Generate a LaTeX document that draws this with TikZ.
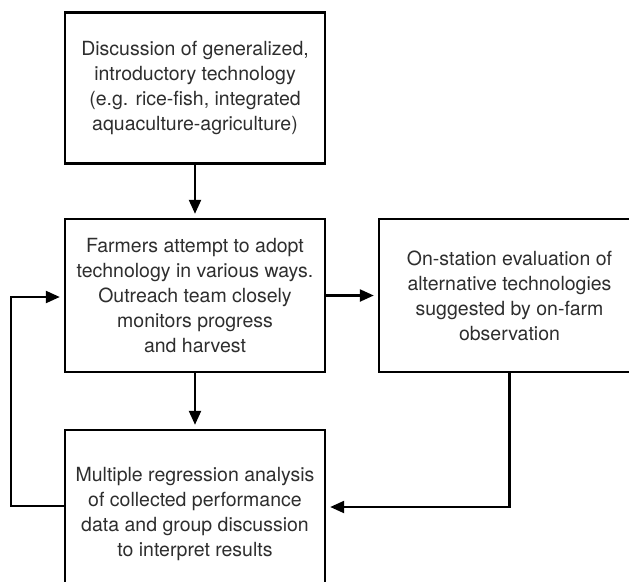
\documentclass[tikz,border=0pt]{standalone}
\usepackage{fontspec}
\setmainfont{TeX Gyre Heros}
\usetikzlibrary{arrows.meta}
\tikzset{
  box/.style={draw=black, line width=2.4pt, fill=white, align=center, text=black!82,
    font=\fontsize{19.5}{25}\selectfont, inner sep=0pt},
  arrow/.style={line width=2.3pt, -{Triangle[length=14pt,width=12pt]}, shorten >=4pt}
}
\begin{document}
\begin{tikzpicture}[x=1pt,y=-1pt]
\useasboundingbox (0,0) rectangle (629,581);
\clip (0,0) rectangle (629,581);
\fill[white] (0,0) rectangle (629,581);
\node[box, minimum width=260pt, minimum height=151pt] (top) at (195,88)
  {Discussion of generalized,\\introductory technology\\(e.g. rice-fish, integrated\\aquaculture-agriculture)};
\node[box, minimum width=260pt, minimum height=153pt] (mid) at (195,295.5)
  {Farmers attempt to adopt\\technology in various ways.\\Outreach team closely\\monitors progress\\and harvest};
\node[box, minimum width=261pt, minimum height=153pt] (right) at (509.5,295.5)
  {On-station evaluation of\\alternative technologies\\suggested by on-farm\\observation};
\node[box, minimum width=260pt, minimum height=168pt] (bot) at (195,514)
  {Multiple regression analysis\\of collected performance\\data and group discussion\\to interpret results};
\draw[arrow] (top.south) -- (mid.north);
\draw[arrow] (mid.south) -- (bot.north);
\draw[arrow] (mid.east) -- (right.west);
\draw[arrow] (right.south) |- ([yshift=7pt]bot.east);
\draw[arrow] ([yshift=8pt]bot.west) -- ++(-53,0) |- ([yshift=-1.5pt]mid.west);
\end{tikzpicture}
\end{document}
